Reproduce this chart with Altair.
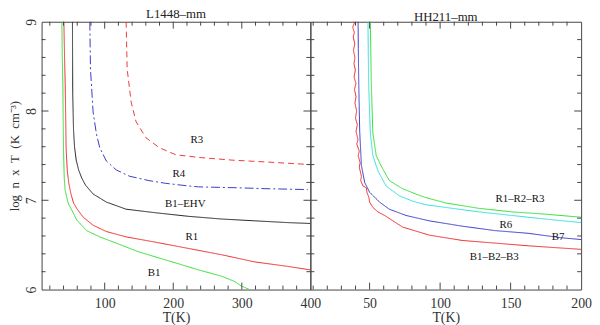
import altair as alt
import pandas as pd

FONT = "Liberation Serif"

# ---------------- Left panel: L1448-mm ----------------
L_B1_T = [37.5, 38.2, 39.0, 39.5, 40.0, 41.0, 42.4, 44.8, 47.1, 52.0, 59.2, 73.6, 92.8, 116.8, 150.4, 198.4, 236.8, 270.4, 289.6, 299.2, 311.2]
L_B1_y = [9.0, 8.6, 8.31, 7.9, 7.57, 7.25, 7.11, 7.03, 6.96, 6.89, 6.78, 6.66, 6.59, 6.52, 6.42, 6.31, 6.22, 6.15, 6.09, 6.04, 6.0]

L_R1_T = [40.5, 41.5, 42.4, 43.8, 45.5, 47.5, 50.5, 54.5, 60.0, 68.8, 83.2, 102.4, 131.2, 174.4, 222.4, 270.4, 318.4, 366.4, 400.0]
L_R1_y = [9.0, 8.6, 8.31, 7.57, 7.33, 7.20, 7.08, 6.97, 6.90, 6.81, 6.72, 6.65, 6.59, 6.53, 6.46, 6.39, 6.31, 6.26, 6.22]

L_EHV_T = [53.0, 53.4, 54.5, 56.0, 58.5, 62.0, 66.5, 72.0, 83.2, 102.4, 131.2, 174.4, 222.4, 270.4, 318.4, 366.4, 400.0]
L_EHV_y = [9.0, 8.2, 7.8, 7.6, 7.45, 7.34, 7.25, 7.17, 7.07, 6.98, 6.90, 6.86, 6.82, 6.79, 6.77, 6.75, 6.74]

L_R4_T = [78.3, 79.3, 83.1, 88.0, 92.8, 102.4, 116.9, 136.0, 164.8, 189.0, 222.4, 237.0, 294.4, 333.7, 396.0]
L_R4_y = [9.0, 8.47, 7.99, 7.74, 7.59, 7.44, 7.34, 7.27, 7.22, 7.19, 7.16, 7.15, 7.14, 7.13, 7.12]

L_R3_T = [131.3, 132.8, 138.6, 145.8, 160.2, 179.5, 203.6, 237.3, 285.5, 333.7, 400.0]
L_R3_y = [9.0, 8.47, 8.10, 7.88, 7.70, 7.59, 7.51, 7.48, 7.45, 7.43, 7.40]

L_names = ["B1", "R1", "B1–EHV", "R4", "R3"]
L_colors = ["#33dd33", "#ee2a2a", "#222222", "#3a3acc", "#ee3a3a"]
L_dashes = [[1, 0], [1, 0], [1, 0], [9, 3, 2, 3], [6, 4]]

L_lab_text = ["R3", "R4", "B1–EHV", "R1", "B1"]
L_lab_T = [234.4, 208.0, 217.6, 227.2, 172.0]
L_lab_y = [7.68, 7.29, 6.96, 6.59, 6.18]

# ---------------- Right panel: HH211-mm ----------------
R_B123_T = [38.3, 39.3, 38.0, 39.2, 38.4, 39.5, 38.5, 39.6, 38.9, 39.9, 39.0, 40.3, 39.3, 40.4, 39.6, 40.8,
            40.0, 41.3, 40.4, 41.8, 40.9, 42.7, 41.9, 43.3, 42.7, 44.2, 43.7, 45.3, 47.7, 48.1, 49.5, 50.0,
            52.3, 55.9, 60.6, 73.4, 92.2, 115.6, 139.0, 162.5, 200.0]
R_B123_y = [9.05, 8.99, 8.94, 8.88, 8.83, 8.75, 8.68, 8.60, 8.53, 8.46, 8.38, 8.31, 8.24, 8.16, 8.09, 8.0,
            7.92, 7.85, 7.77, 7.68, 7.63, 7.55, 7.50, 7.42, 7.37, 7.27, 7.22, 7.16, 7.14, 7.09, 7.03, 6.98,
            6.92, 6.87, 6.83, 6.70, 6.61, 6.55, 6.52, 6.49, 6.45]

R_B7_T = [41.8, 42.0, 42.3, 43.0, 44.2, 46.5, 50.0, 57.0, 64.0, 75.8, 92.2, 115.6, 139.0, 162.5, 185.9, 200.0]
R_B7_y = [9.05, 8.7, 8.31, 7.76, 7.39, 7.20, 7.09, 6.98, 6.90, 6.83, 6.77, 6.71, 6.66, 6.63, 6.58, 6.56]

R_R6_T = [48.8, 49.3, 50.5, 52.3, 55.9, 61.7, 71.1, 80.5, 89.9, 103.9, 127.3, 150.8, 174.2, 200.0]
R_R6_y = [9.05, 8.31, 7.755, 7.50, 7.33, 7.16, 7.05, 6.99, 6.95, 6.92, 6.87, 6.83, 6.79, 6.75]

R_R123_T = [50.5, 51.2, 52.3, 54.7, 58.2, 64.0, 73.4, 82.8, 89.9, 103.9, 127.3, 150.8, 174.2, 200.0]
R_R123_y = [9.05, 8.31, 7.755, 7.50, 7.385, 7.22, 7.13, 7.07, 7.03, 6.97, 6.91, 6.87, 6.845, 6.81]

R_names = ["B1–B2–B3", "B7", "R6", "R1–R2–R3"]
R_colors = ["#ee2a2a", "#3a3acc", "#33dddd", "#33dd33"]

R_lab_text = ["R1–R2–R3", "R6", "B7", "B1–B2–B3"]
R_lab_T = [156.6, 146.6, 183.6, 138.4]
R_lab_y = [7.01, 6.72, 6.585, 6.36]

# ---------------- Axes ----------------
Y_LABELS = [6, 7, 8, 9]
Y_MAJOR_TICKS = [7, 8]
Y_MINOR_TICKS = [6.2, 6.4, 6.6, 6.8, 7.2, 7.4, 7.6, 7.8, 8.2, 8.4, 8.6, 8.8]

L_XDOMAIN = [8, 400]
L_XLABELS = [100, 200, 300, 400]
L_XMAJOR = [100, 200, 300]
L_XMINOR = [20, 40, 60, 80, 120, 140, 160, 180, 220, 240, 260, 280, 320, 340, 360, 380]

R_XDOMAIN = [8, 200]
R_XLABELS = [50, 100, 150, 200]
R_XMAJOR = [50, 100, 150]
R_XMINOR = [10, 20, 30, 40, 60, 70, 80, 90, 110, 120, 130, 140, 160, 170, 180, 190]

H = 271
W_L = 272
W_R = 274
TICK_C = "#444444"
YTITLE = "log\u00a0\u00a0n\u00a0\u00a0x\u00a0\u00a0T\u00a0\u00a0(K\u00a0\u00a0cm\u207b\u00b3)"


def series_df(names, data):
    rows = []
    for name, (ts, ys) in zip(names, data):
        for i, (t, y) in enumerate(zip(ts, ys)):
            rows.append({"s": name, "T": t, "y": y, "i": i})
    return pd.DataFrame(rows)


def panel(df, names, colors, dashes, lab, xdomain, xlabels, xmaj, xmin, width, show_y, title):
    xs = alt.Scale(domain=xdomain, nice=False, zero=False)
    ys = alt.Scale(domain=[6, 9], nice=False, zero=False)
    xaxis = alt.Axis(values=xlabels, title="T(K)", ticks=False, domain=False, grid=False,
                     labelFont=FONT, labelFontSize=14, labelPadding=7, labelColor="#333333",
                     labelFlush=False, format="d",
                     titleFont=FONT, titleFontSize=14, titleFontWeight="normal", titlePadding=0,
                     titleColor="#333333")
    if show_y:
        yaxis = alt.Axis(values=Y_LABELS, title=YTITLE, ticks=False, domain=False, grid=False,
                         labelAngle=270, labelFont=FONT, labelFontSize=14, labelPadding=3,
                         labelColor="#333333", labelFlush=False, format="d",
                         titleFont=FONT, titleFontSize=13, titleFontWeight="normal",
                         titlePadding=3, titleColor="#333333")
    else:
        yaxis = None
    X = lambda: alt.X("T:Q", scale=xs, axis=xaxis)
    Y = lambda: alt.Y("y:Q", scale=ys, axis=yaxis)

    lines = alt.Chart(df).mark_line(strokeWidth=1, clip=True).encode(
        x=X(), y=Y(),
        color=alt.Color("s:N", scale=alt.Scale(domain=names, range=colors), legend=None),
        strokeDash=alt.StrokeDash("s:N", scale=alt.Scale(domain=names, range=dashes), legend=None),
        order="i:Q",
    )
    text = alt.Chart(lab).mark_text(font=FONT, fontSize=11, color="#111111").encode(
        x=X(), y=Y(), text="label:N",
    )
    layers = [lines, text]
    for vals, L in ((xmaj, 7), (xmin, 4)):
        base = alt.Chart(pd.DataFrame({"T": vals})).mark_rule(color=TICK_C, strokeWidth=1)
        layers.append(base.encode(x=X(), y=alt.value(H), y2=alt.value(H - L)))
        layers.append(base.encode(x=X(), y=alt.value(0), y2=alt.value(L)))
    for vals, L in ((Y_MAJOR_TICKS, 7), (Y_MINOR_TICKS, 4)):
        base = alt.Chart(pd.DataFrame({"y": vals})).mark_rule(color=TICK_C, strokeWidth=1)
        layers.append(base.encode(y=Y(), x=alt.value(0), x2=alt.value(L)))
        layers.append(base.encode(y=Y(), x=alt.value(width), x2=alt.value(width - L)))
    return alt.layer(*layers).properties(
        width=width, height=H,
        title=alt.TitleParams(title, font=FONT, fontSize=13, fontWeight="normal", offset=-3, color="#222222"),
    )


L_df = series_df(L_names, [(L_B1_T, L_B1_y), (L_R1_T, L_R1_y), (L_EHV_T, L_EHV_y), (L_R4_T, L_R4_y), (L_R3_T, L_R3_y)])
R_df = series_df(R_names, [(R_B123_T, R_B123_y), (R_B7_T, R_B7_y), (R_R6_T, R_R6_y), (R_R123_T, R_R123_y)])
L_lab = pd.DataFrame({"label": L_lab_text, "T": L_lab_T, "y": L_lab_y})
R_lab = pd.DataFrame({"label": R_lab_text, "T": R_lab_T, "y": R_lab_y})

left = panel(L_df, L_names, L_colors, L_dashes, L_lab, L_XDOMAIN, L_XLABELS, L_XMAJOR, L_XMINOR, W_L, True, "L1448–mm")
right = panel(R_df, R_names, R_colors, [[1, 0]] * 4, R_lab, R_XDOMAIN, R_XLABELS, R_XMAJOR, R_XMINOR, W_R, False, "HH211–mm")

chart = (
    alt.hconcat(left, right, spacing=0, bounds="flush")
    .resolve_scale(color="independent", strokeDash="independent", x="independent")
    .properties(padding={"left": 0, "top": -2, "right": 0, "bottom": 0}, background="white")
    .configure_view(stroke="#444444", strokeWidth=1)
)

chart.save("out.html", embed_options={"renderer": "svg", "actions": False})
